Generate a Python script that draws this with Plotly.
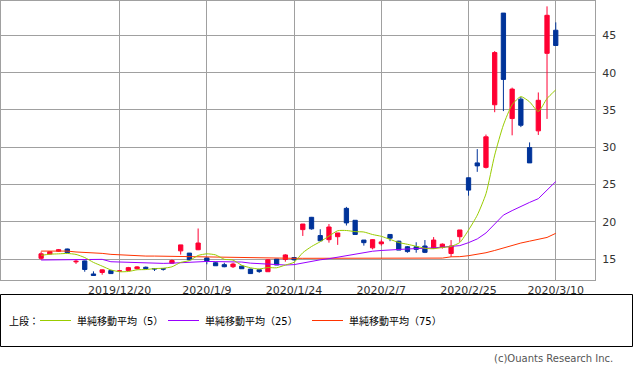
import plotly.graph_objects as go

# ---- data ----
dates = [
    "2019-12-09", "2019-12-10", "2019-12-11", "2019-12-12", "2019-12-13",
    "2019-12-16", "2019-12-17", "2019-12-18", "2019-12-19", "2019-12-20",
    "2019-12-23", "2019-12-24", "2019-12-25", "2019-12-26", "2019-12-27",
    "2019-12-30", "2020-01-06", "2020-01-07", "2020-01-08", "2020-01-09",
    "2020-01-10", "2020-01-14", "2020-01-15", "2020-01-16", "2020-01-17",
    "2020-01-20", "2020-01-21", "2020-01-22", "2020-01-23", "2020-01-24",
    "2020-01-27", "2020-01-28", "2020-01-29", "2020-01-30", "2020-01-31",
    "2020-02-03", "2020-02-04", "2020-02-05", "2020-02-06", "2020-02-07",
    "2020-02-10", "2020-02-12", "2020-02-13", "2020-02-14", "2020-02-17",
    "2020-02-18", "2020-02-19", "2020-02-20", "2020-02-21", "2020-02-25",
    "2020-02-26", "2020-02-27", "2020-02-28", "2020-03-02", "2020-03-03",
    "2020-03-04", "2020-03-05", "2020-03-06", "2020-03-09", "2020-03-10",
]

open_ = [15.1, 15.67, 16.05, 16.35, 14.62, 14.75, 13.0, 13.2, 13.45, 13.4,
         13.45, 13.7, 13.9, 13.72, 13.72, 14.45, 16.1, 15.8, 16.25, 15.15,
         14.5, 14.25, 13.97, 14.05, 13.65, 13.57, 13.3, 15.0, 14.95, 15.2,
         18.95, 20.6, 18.15, 17.6, 18.0, 21.8, 20.2, 17.55, 16.5, 17.05,
         18.3, 17.4, 16.65, 16.65, 16.75, 16.45, 16.55, 15.75, 18.0, 25.9,
         27.9, 27.3, 35.7, 48.0, 33.85, 36.45, 29.95, 32.2, 42.6, 45.7]
high = [16.0, 16.0, 16.35, 16.4, 14.95, 14.8, 13.35, 13.6, 13.5, 13.42,
        13.95, 14.05, 14.0, 13.75, 13.75, 14.95, 16.9, 15.8, 19.1, 15.2,
        14.65, 14.5, 14.5, 14.1, 13.7, 13.6, 15.0, 15.0, 15.65, 15.25,
        19.7, 20.65, 19.0, 19.7, 18.5, 22.0, 20.2, 17.55, 17.65, 17.6,
        18.3, 17.45, 16.75, 17.25, 17.55, 17.95, 17.1, 17.55, 18.9, 25.95,
        29.75, 31.7, 42.9, 48.0, 38.0, 36.75, 30.65, 37.35, 48.9, 46.75]
low = [14.9, 15.65, 15.95, 15.8, 14.35, 13.3, 12.75, 12.9, 13.0, 13.38,
       13.4, 13.6, 13.65, 13.4, 13.45, 14.4, 15.6, 14.85, 16.2, 14.3,
       14.1, 13.9, 13.8, 13.7, 13.0, 13.15, 13.3, 14.2, 14.65, 14.8,
       18.1, 18.95, 17.45, 17.2, 16.9, 19.5, 18.3, 16.8, 16.3, 16.8,
       17.4, 16.2, 15.85, 15.85, 15.8, 16.35, 16.4, 15.3, 17.3, 23.5,
       26.7, 27.15, 34.7, 34.85, 31.6, 32.7, 27.9, 31.65, 33.8, 43.65]
close = [15.7, 15.98, 16.25, 15.85, 14.7, 13.6, 12.8, 13.55, 13.05, 13.4,
         13.85, 13.95, 13.72, 13.68, 13.65, 14.8, 16.9, 14.9, 17.15, 14.75,
         14.1, 13.97, 14.33, 13.7, 13.05, 13.32, 14.9, 14.2, 15.55, 14.9,
         19.7, 19.05, 17.45, 19.3, 18.5, 19.85, 18.3, 17.2, 17.6, 17.3,
         17.8, 16.2, 16.0, 16.3, 15.9, 17.55, 17.0, 16.75, 18.9, 24.25,
         27.5, 31.4, 42.7, 39.1, 37.8, 32.95, 27.9, 36.3, 47.7, 43.65]

ma5 = [15.5, 15.65, 15.7, 15.75, 15.62, 15.2, 14.55, 14.05, 13.54, 13.3,
       13.33, 13.56, 13.59, 13.72, 13.77, 13.96, 14.55, 14.79, 15.48, 15.7,
       15.56, 14.97, 14.86, 14.17, 13.83, 13.67, 13.86, 13.83, 14.2, 14.57,
       15.85, 16.68, 17.33, 18.08, 18.8, 18.83, 18.68, 18.63, 18.29, 18.05,
       17.64, 17.22, 16.98, 16.72, 16.44, 16.39, 16.55, 16.7, 17.22, 18.89,
       20.88, 23.76, 28.95, 32.99, 35.7, 36.79, 36.09, 34.81, 36.53, 37.7]
ma25 = [14.87, 14.87, 14.87, 14.96, 14.96, 14.96, 14.96, 14.96, 14.64, 14.6,
        14.55, 14.55, 14.5, 14.45, 14.42, 14.45, 14.5, 14.65, 14.7, 14.68,
        14.66, 14.64, 14.64, 14.6, 14.45, 14.4, 14.25, 14.2, 14.2, 14.25,
        14.5, 14.75, 14.9, 15.05, 15.25, 15.5, 15.75, 15.9, 16.05, 16.15,
        16.25, 16.3, 16.35, 16.4, 16.43, 16.5, 16.6, 16.7, 16.8, 17.2,
        17.7, 18.5, 19.7, 20.9, 21.5, 22.1, 22.6, 23.1, 24.2, 25.4]
ma75 = [16.07, 16.07, 16.07, 16.07, 15.95, 15.9, 15.78, 15.76, 15.63, 15.55,
        15.49, 15.49, 15.4, 15.4, 15.38, 15.33, 15.31, 15.31, 15.31, 15.31,
        15.22, 15.22, 15.22, 15.22, 15.15, 15.1, 15.1, 15.1, 15.1, 15.1,
        15.1, 15.1, 15.1, 15.1, 15.1, 15.08, 15.08, 15.08, 15.08, 15.08,
        15.13, 15.13, 15.13, 15.13, 15.13, 15.13, 15.13, 15.3, 15.32, 15.45,
        15.6, 15.85, 16.15, 16.5, 16.9, 17.15, 17.4, 17.6, 17.9, 18.45]

tick_dates = ["2019-12-20", "2020-01-09", "2020-01-24", "2020-02-07", "2020-02-25", "2020-03-10"]
tick_labels = ["2019/12/20", "2020/1/9", "2020/1/24", "2020/2/7", "2020/2/25", "2020/3/10"]
y_ticks = [15, 20, 25, 30, 35, 40, 45]

legend_prefix = "上段："
ma_names = ["単純移動平均（5）", "単純移動平均（25）", "単純移動平均（75）"]
ma_colors = ["#99cc00", "#9900ff", "#ff3300"]
copyright_text = "(c)Ouants Research Inc."

UP = "#ff0033"
DOWN = "#003399"
GRID = "#a0a0a0"

W, H = 633, 371
ML, MR, MT, MB = 1, 38, 1, 91
PW, PH = W - ML - MR, H - MT - MB


def px(x):
    return (x - ML) / PW


def py(y):
    return (H - MB - y) / PH


fig = go.Figure()

fig.add_trace(go.Candlestick(
    x=dates, open=open_, high=high, low=low, close=close,
    increasing=dict(line=dict(color=UP, width=1), fillcolor=UP),
    decreasing=dict(line=dict(color=DOWN, width=1), fillcolor=DOWN),
    whiskerwidth=0, showlegend=False, hoverinfo="skip",
))

for vals, col, shape in zip([ma75, ma25, ma5], ma_colors[::-1], ["linear", "linear", "spline"]):
    fig.add_trace(go.Scatter(
        x=dates, y=vals, mode="lines",
        line=dict(color=col, width=1, shape=shape, smoothing=0.6 if shape == "spline" else None),
        showlegend=False, hoverinfo="skip",
    ))

font_family = "DejaVu Sans, Noto Sans CJK JP, sans-serif"

fig.update_layout(
    width=W, height=H,
    margin=dict(l=ML, r=MR, t=MT, b=MB, pad=0),
    paper_bgcolor="white", plot_bgcolor="white",
    font=dict(family=font_family, size=11, color="#333333"),
    showlegend=False,
    xaxis=dict(
        type="category", range=[-4.6, 63.5],
        tickmode="array", tickvals=tick_dates, ticktext=tick_labels,
        showgrid=True, gridcolor=GRID, gridwidth=1,
        showline=True, linecolor=GRID, linewidth=1, mirror=True,
        ticks="", rangeslider=dict(visible=False),
        tickfont=dict(size=11, color="#333333"),
        fixedrange=True,
    ),
    yaxis=dict(
        side="right", range=[12.19, 49.62],
        tickmode="array", tickvals=y_ticks,
        showgrid=True, gridcolor=GRID, gridwidth=1, zeroline=False,
        showline=True, linecolor=GRID, linewidth=1, mirror=True,
        ticks="", ticklabelstandoff=4,
        tickfont=dict(size=11, color="#333333"),
        fixedrange=True,
    ),
)

shapes = []
annotations = []
# legend box
shapes.append(dict(type="rect", xref="paper", yref="paper",
                   x0=px(0.5), x1=px(632.5), y0=py(346.5), y1=py(294.5),
                   line=dict(color="black", width=1), fillcolor="rgba(0,0,0,0)"))
legend_y = 320.5
annotations.append(dict(xref="paper", yref="paper", x=px(7), y=py(legend_y),
                        text=legend_prefix, showarrow=False, xanchor="left", yanchor="middle",
                        font=dict(size=10, color="#000000", family=font_family)))
item_x = [40, 168, 312]
for name, col, x0 in zip(ma_names, ma_colors, item_x):
    shapes.append(dict(type="line", xref="paper", yref="paper",
                       x0=px(x0), x1=px(x0 + 31), y0=py(legend_y), y1=py(legend_y),
                       line=dict(color=col, width=1)))
    annotations.append(dict(xref="paper", yref="paper", x=px(x0 + 35), y=py(legend_y),
                            text=name, showarrow=False, xanchor="left", yanchor="middle",
                            font=dict(size=10, color="#000000", family=font_family)))
annotations.append(dict(xref="paper", yref="paper", x=px(615), y=py(358),
                        text=copyright_text, showarrow=False, xanchor="right", yanchor="middle",
                        font=dict(size=10, color="#555555", family=font_family)))

fig.update_layout(shapes=shapes, annotations=annotations)

fig.write_html("out.html")
